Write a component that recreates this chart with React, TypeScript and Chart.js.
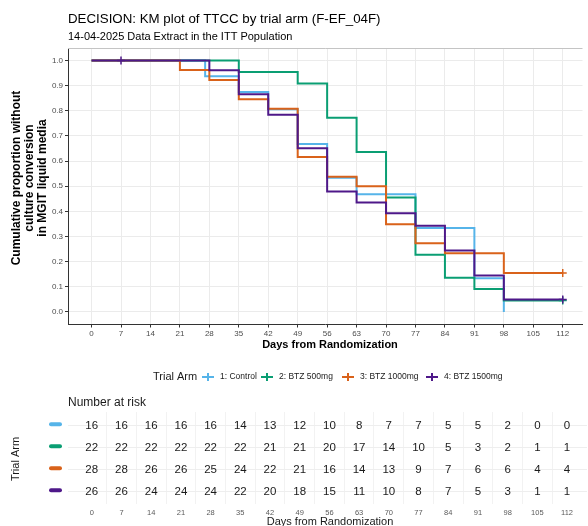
import React, { useEffect, useRef } from 'react';
import { Chart, registerables } from 'chart.js';
Chart.register(...registerables);

const FONT = '"Liberation Sans", Arial, Helvetica, sans-serif';
Chart.defaults.font.family = FONT;

const TITLE = 'DECISION: KM plot of TTCC by trial arm (F-EF_04F)';
const SUBTITLE = '14-04-2025 Data Extract in the ITT Population';
const X_TITLE = 'Days from Randomization';
const Y_TITLE = ['Cumulative proportion without', 'culture conversion', 'in MGIT liquid media'];
const LEGEND_TITLE = 'Trial Arm';
const RISK_TITLE = 'Number at risk';

const ARMS = ['1: Control', '2: BTZ 500mg', '3: BTZ 1000mg', '4: BTZ 1500mg'];
const COLORS = ['#56B4E9', '#0A9E73', '#D9621A', '#4E1889'];

const DAY_TICKS = [0, 7, 14, 21, 28, 35, 42, 49, 56, 63, 70, 77, 84, 91, 98, 105, 112];
const Y_TICKS = [0, 0.1, 0.2, 0.3, 0.4, 0.5, 0.6, 0.7, 0.8, 0.9, 1.0];

// KM step points (day at which the estimate changes, new estimate)
const CONTROL_DAYS = [0, 27, 35, 42, 49, 56, 63, 77, 91, 98];
const CONTROL_SURV = [1, 0.9375, 0.875, 0.806, 0.668, 0.534, 0.468, 0.334, 0.134, 0];
const BTZ500_DAYS = [0, 35, 49, 56, 63, 70, 77, 84, 91, 98, 112];
const BTZ500_SURV = [1, 0.955, 0.909, 0.773, 0.636, 0.455, 0.227, 0.136, 0.091, 0.045, 0.045];
const BTZ1000_DAYS = [0, 21, 28, 35, 42, 49, 56, 63, 70, 77, 84, 98, 112];
const BTZ1000_SURV = [1, 0.962, 0.923, 0.846, 0.808, 0.616, 0.538, 0.5, 0.349, 0.273, 0.233, 0.155, 0.155];
const BTZ1500_DAYS = [0, 28, 35, 42, 49, 56, 63, 70, 77, 84, 91, 98, 112];
const BTZ1500_SURV = [1, 0.961, 0.866, 0.784, 0.651, 0.479, 0.435, 0.393, 0.343, 0.244, 0.145, 0.049, 0.049];

// censor marks
const CENSOR_DAYS = [[], [112], [112], [7, 112]];
const CENSOR_SURV = [[], [0.045], [0.155], [1, 0.049]];

// number at risk
const RISK_CONTROL = [16, 16, 16, 16, 16, 14, 13, 12, 10, 8, 7, 7, 5, 5, 2, 0, 0];
const RISK_BTZ500 = [22, 22, 22, 22, 22, 22, 21, 21, 20, 17, 14, 10, 5, 3, 2, 1, 1];
const RISK_BTZ1000 = [28, 28, 26, 26, 25, 24, 22, 21, 16, 14, 13, 9, 7, 6, 6, 4, 4];
const RISK_BTZ1500 = [26, 26, 24, 24, 24, 22, 20, 18, 15, 11, 10, 8, 7, 5, 3, 1, 1];

const ARM_DAYS = [CONTROL_DAYS, BTZ500_DAYS, BTZ1000_DAYS, BTZ1500_DAYS];
const ARM_SURV = [CONTROL_SURV, BTZ500_SURV, BTZ1000_SURV, BTZ1500_SURV];
const RISK = [RISK_CONTROL, RISK_BTZ500, RISK_BTZ1000, RISK_BTZ1500];

const X_MIN = -5.6;
const X_MAX = 116.7;

const W = 588;
const TOP_H = 395;
const BOT_H = 131;

const LEGEND_X = [208, 267, 348, 432];

const topPlugin = {
  id: 'topText',
  afterDraw(chart: any) {
    const ctx = chart.ctx;
    const a = chart.chartArea;
    ctx.save();
    // panel top border
    ctx.strokeStyle = '#c4c4c4';
    ctx.lineWidth = 1;
    ctx.beginPath();
    ctx.moveTo(a.left, Math.round(a.top) + 0.5);
    ctx.lineTo(a.right, Math.round(a.top) + 0.5);
    ctx.stroke();

    ctx.fillStyle = '#000';
    ctx.textBaseline = 'middle';
    ctx.textAlign = 'left';
    ctx.font = `13.3px ${FONT}`;
    ctx.fillText(TITLE, 68, 19);
    ctx.font = `11px ${FONT}`;
    ctx.fillText(SUBTITLE, 68, 37);

    ctx.font = `bold 11px ${FONT}`;
    ctx.textAlign = 'center';
    ctx.fillText(X_TITLE, 330, 345);

    ctx.save();
    ctx.translate(30, 178);
    ctx.rotate(-Math.PI / 2);
    ctx.font = `bold 12px ${FONT}`;
    Y_TITLE.forEach((t, i) => ctx.fillText(t, 0, (i - 1) * 13));
    ctx.restore();

    // legend
    const ly = 377;
    ctx.textAlign = 'left';
    ctx.fillStyle = '#1a1a1a';
    ctx.font = `11px ${FONT}`;
    ctx.fillText(LEGEND_TITLE, 153, ly);
    ctx.font = `8.5px ${FONT}`;
    ARMS.forEach((name, i) => {
      const cx = LEGEND_X[i];
      ctx.strokeStyle = COLORS[i];
      ctx.lineWidth = 2;
      ctx.beginPath();
      ctx.moveTo(cx - 6, ly);
      ctx.lineTo(cx + 6, ly);
      ctx.moveTo(cx, ly - 4);
      ctx.lineTo(cx, ly + 4);
      ctx.stroke();
      ctx.fillStyle = '#1a1a1a';
      ctx.fillText(name, cx + 12, ly);
    });
    ctx.restore();
  },
};

const bottomPlugin = {
  id: 'riskText',
  afterDraw(chart: any) {
    const ctx = chart.ctx;
    const xs = chart.scales.x;
    const ys = chart.scales.y;
    ctx.save();
    ctx.textBaseline = 'middle';
    ctx.textAlign = 'left';
    ctx.fillStyle = '#1a1a1a';
    ctx.font = `12px ${FONT}`;
    ctx.fillText(RISK_TITLE, 68, 8);

    ctx.save();
    ctx.translate(16, 64);
    ctx.rotate(-Math.PI / 2);
    ctx.textAlign = 'center';
    ctx.font = `11px ${FONT}`;
    ctx.fillText(LEGEND_TITLE, 0, 0);
    ctx.restore();

    RISK.forEach((row, i) => {
      const y = ys.getPixelForValue(i + 1);
      ctx.strokeStyle = COLORS[i];
      ctx.lineWidth = 4;
      ctx.lineCap = 'round';
      ctx.beginPath();
      ctx.moveTo(51, y - 1);
      ctx.lineTo(60, y - 1);
      ctx.stroke();
      ctx.fillStyle = '#1a1a1a';
      ctx.textAlign = 'center';
      ctx.font = `11.5px ${FONT}`;
      row.forEach((n, j) => {
        ctx.fillText(String(n), xs.getPixelForValue(DAY_TICKS[j]), y + 0.5);
      });
    });

    ctx.textAlign = 'center';
    ctx.font = `11px ${FONT}`;
    ctx.fillStyle = '#1a1a1a';
    ctx.fillText(X_TITLE, 330, 127);
    ctx.restore();
  },
};

export default function App() {
  const topRef = useRef<HTMLCanvasElement>(null);
  const botRef = useRef<HTMLCanvasElement>(null);

  useEffect(() => {
    const lineSets = ARMS.map((name, i) => ({
      type: 'line' as const,
      label: name,
      data: ARM_DAYS[i].map((d, k) => ({ x: d, y: ARM_SURV[i][k] })),
      borderColor: COLORS[i],
      backgroundColor: COLORS[i],
      borderWidth: 2,
      stepped: true,
      pointRadius: 0,
      fill: false,
      order: 10 - i,
    }));
    const censorSets = ARMS.map((name, i) => ({
      type: 'scatter' as const,
      label: name + ' censored',
      data: CENSOR_DAYS[i].map((d, k) => ({ x: d, y: CENSOR_SURV[i][k] })),
      borderColor: COLORS[i],
      backgroundColor: COLORS[i],
      pointStyle: 'cross',
      pointRadius: 4,
      borderWidth: 1.5,
      order: 5 - i,
    }));

    const top = new Chart(topRef.current as HTMLCanvasElement, {
      type: 'line',
      data: { datasets: [...lineSets, ...censorSets] as any },
      options: {
        responsive: false,
        animation: false,
        events: [],
        layout: { padding: { top: 48, left: 0, right: 1, bottom: 0 } },
        plugins: { legend: { display: false }, tooltip: { enabled: false }, title: { display: false } },
        scales: {
          x: {
            type: 'linear',
            min: X_MIN,
            max: X_MAX,
            afterBuildTicks: (s: any) => { s.ticks = DAY_TICKS.map((v) => ({ value: v })); },
            afterFit: (s: any) => { s.height = TOP_H - 324.5; },
            ticks: { color: '#4d4d4d', font: { size: 8 }, padding: 1, autoSkip: false, maxRotation: 0, callback: (v: any) => String(v) },
            grid: { color: '#ebebeb', lineWidth: 1, tickColor: '#333333', tickLength: 3, drawTicks: true },
            border: { display: true, color: '#333333', width: 1 },
          },
          y: {
            type: 'linear',
            min: -0.05,
            max: 1.05,
            afterBuildTicks: (s: any) => { s.ticks = Y_TICKS.map((v) => ({ value: v })); },
            afterFit: (s: any) => { s.width = 68; },
            ticks: { color: '#4d4d4d', font: { size: 8 }, padding: 2, callback: (v: any) => Number(v).toFixed(1) },
            grid: { color: '#ebebeb', lineWidth: 1, tickColor: '#333333', tickLength: 3, drawTicks: true },
            border: { display: true, color: '#333333', width: 1 },
          },
        },
      },
      plugins: [topPlugin],
    });

    const riskTicks: number[] = [];
    for (let k = 0; k <= 32; k++) riskTicks.push(k * 3.5);

    const bot = new Chart(botRef.current as HTMLCanvasElement, {
      type: 'scatter',
      data: { datasets: [] },
      options: {
        responsive: false,
        animation: false,
        events: [],
        layout: { padding: { top: 17, left: 0, right: 1, bottom: 0 } },
        plugins: { legend: { display: false }, tooltip: { enabled: false } },
        scales: {
          x: {
            type: 'linear',
            min: X_MIN,
            max: X_MAX,
            afterBuildTicks: (s: any) => { s.ticks = riskTicks.map((v) => ({ value: v })); },
            afterFit: (s: any) => { s.height = 21.6; },
            ticks: {
              color: '#5a5a5a', font: { size: 7.5 }, padding: 4, autoSkip: false, maxRotation: 0,
              callback: (v: any) => (Number(v) % 7 === 0 ? String(v) : ''),
            },
            grid: {
              color: (c: any) => (c.tick && c.tick.value % 7 === 0 ? 'rgba(0,0,0,0)' : '#f2f2f2'),
              lineWidth: 1,
              drawTicks: false,
            },
            border: { display: false },
          },
          y: {
            type: 'linear',
            min: 0.4,
            max: 4.6,
            reverse: true,
            afterBuildTicks: (s: any) => { s.ticks = [1, 2, 3, 4].map((v) => ({ value: v })); },
            afterFit: (s: any) => { s.width = 68; },
            ticks: { display: false },
            grid: { color: '#eeeeee', lineWidth: 1, drawTicks: false },
            border: { display: false },
          },
        },
      },
      plugins: [bottomPlugin],
    });

    return () => {
      top.destroy();
      bot.destroy();
    };
  }, []);

  return (
    <div style={{ position: 'fixed', left: 0, top: 0, width: W, height: TOP_H + BOT_H, background: '#fff', overflow: 'hidden' }}>
      <canvas ref={topRef} width={W} height={TOP_H} style={{ position: 'absolute', left: 0, top: 0, display: 'block' }} />
      <canvas ref={botRef} width={W} height={BOT_H} style={{ position: 'absolute', left: 0, top: TOP_H, display: 'block' }} />
    </div>
  );
}
